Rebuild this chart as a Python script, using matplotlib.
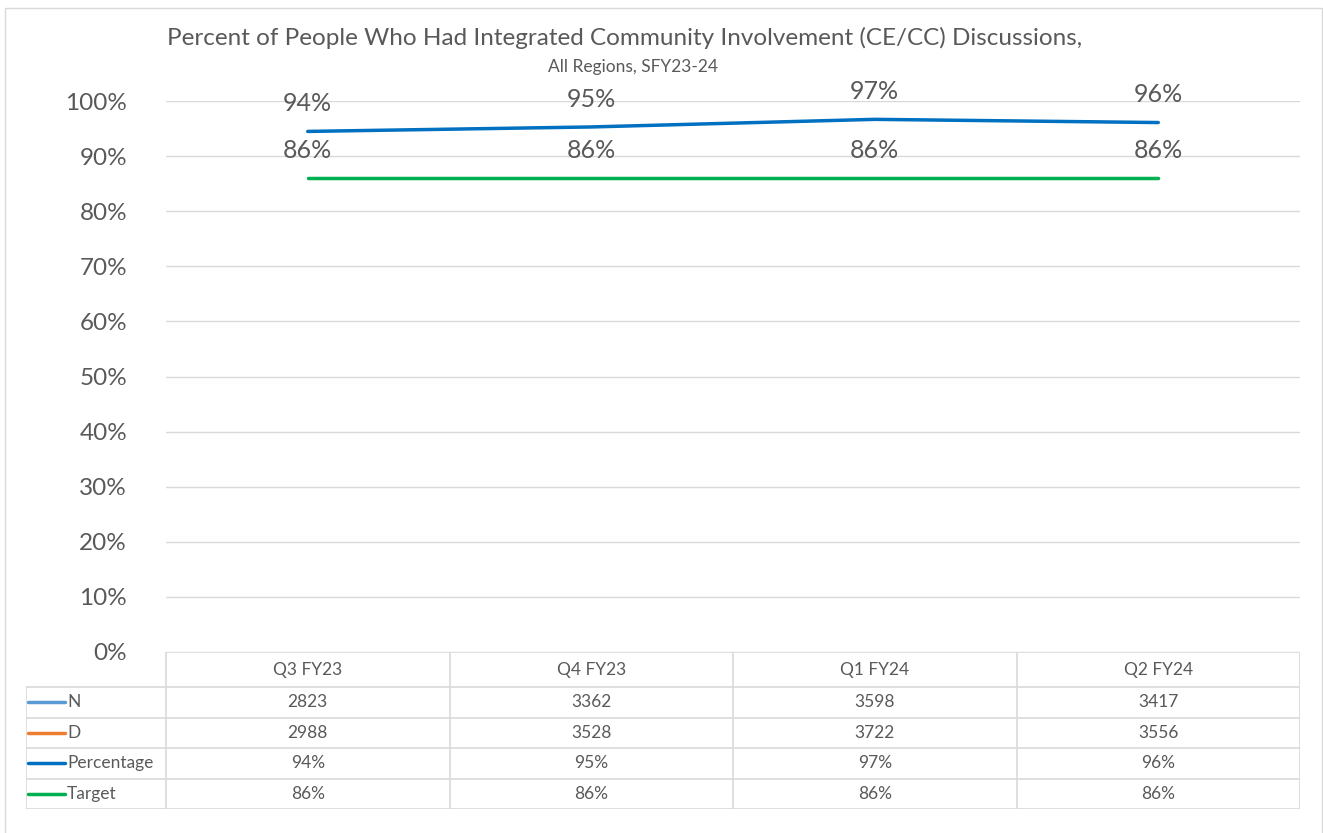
import numpy as np
import matplotlib.pyplot as plt
from matplotlib.patches import Rectangle

plt.rcParams['font.family'] = ['Lato', 'DejaVu Sans']

quarters = ['Q3 FY23', 'Q4 FY23', 'Q1 FY24', 'Q2 FY24']
n_vals = [2823, 3362, 3598, 3417]
d_vals = [2988, 3528, 3722, 3556]
percentage = [0.9448, 0.9529, 0.9667, 0.9609]
target = [0.86, 0.86, 0.86, 0.86]

row_names = ['N', 'D', 'Percentage', 'Target']
row_colors = ['#5B9BD5', '#ED7D31', '#0070C0', '#00B050']

W, H = 1323, 833
txt = '#595959'
grid = '#D9D9D9'

fig = plt.figure(figsize=(W / 100, H / 100), dpi=100)


def fx(x):
    return x / W


def fy(y):
    return 1 - y / H


# outer chart frame
fig.add_artist(Rectangle((fx(5), fy(840)), fx(1322) - fx(5), fy(8) - fy(840),
                         transform=fig.transFigure, fill=False,
                         edgecolor='#D9D9D9', lw=1))

fig.text(fx(625), fy(38), 'Percent of People Who Had Integrated Community Involvement (CE/CC) Discussions,',
         ha='center', va='center', fontsize=17.5, color=txt)
fig.text(fx(633), fy(67), 'All Regions, SFY23-24', ha='center', va='center',
         fontsize=12.5, color=txt)

# main plot area
ax = fig.add_axes([fx(166), fy(652), fx(1300) - fx(166), fy(101) - fy(652)])
x = np.arange(len(quarters))
ax.set_xlim(-0.5, len(quarters) - 0.5)
ax.set_ylim(0, 1.0)
ax.set_yticks(np.arange(0, 1.01, 0.1))
ax.set_yticklabels([f'{int(round(v * 100))}%' for v in np.arange(0, 1.01, 0.1)])
ax.tick_params(axis='y', length=0, labelsize=17.5, labelcolor=txt, pad=28)
ax.set_xticks([])
ax.grid(axis='y', color=grid, lw=1)
ax.set_axisbelow(True)
for s in ax.spines.values():
    s.set_visible(False)

ax.plot(x, percentage, color='#0070C0', lw=2.5, solid_capstyle='round')
ax.plot(x, target, color='#00B050', lw=2.5, solid_capstyle='round')
for xi, p, t in zip(x, percentage, target):
    ax.annotate(f'{p:.0%}', (xi, p), xytext=(0, 20), textcoords='offset points',
                ha='center', va='center', fontsize=18, color=txt)
    ax.annotate(f'{t:.0%}', (xi, t), xytext=(0, 20), textcoords='offset points',
                ha='center', va='center', fontsize=18, color=txt)

# data table underneath
tab = fig.add_axes([fx(26), fy(809), fx(1300) - fx(26), fy(652) - fy(809)])
col_w = (1300 - 166) / len(quarters)
left = -0.5 - (166 - 26) / col_w
tab.set_xlim(left, len(quarters) - 0.5)
row_edges = [0, 35, 65.5, 96, 126.5, 157]
tab.set_ylim(157, 0)
tab.axis('off')

lc = dict(color=grid, lw=1.2)
tab.plot([-0.5, len(quarters) - 0.5], [0, 0], **lc)
for r in row_edges[1:]:
    tab.plot([left, len(quarters) - 0.5], [r, r], **lc)
tab.plot([left, left], [row_edges[1], row_edges[-1]], **lc)
for c in range(len(quarters) + 1):
    tab.plot([c - 0.5, c - 0.5], [0, row_edges[-1]], **lc)

for c, q in enumerate(quarters):
    tab.text(c, (row_edges[0] + row_edges[1]) / 2, q, ha='center', va='center',
             fontsize=12.5, color=txt)

cells = [[str(v) for v in n_vals],
         [str(v) for v in d_vals],
         [f'{v:.0%}' for v in percentage],
         [f'{v:.0%}' for v in target]]
key_w = (65 - 28) / col_w
for r, (name, colr, vals) in enumerate(zip(row_names, row_colors, cells)):
    yc = (row_edges[r + 1] + row_edges[r + 2]) / 2
    tab.plot([left + 2 / col_w, left + 2 / col_w + key_w], [yc, yc],
             color=colr, lw=2.5, solid_capstyle='round')
    tab.text(left + 41 / col_w, yc, name, ha='left', va='center',
             fontsize=12.5, color=txt)
    for c, v in enumerate(vals):
        tab.text(c, yc, v, ha='center', va='center', fontsize=12.5, color=txt)

plt.savefig('out.png', dpi=100)
